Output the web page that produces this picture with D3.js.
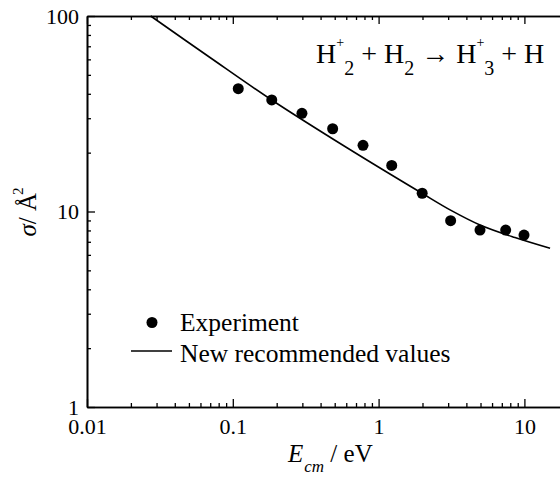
<!DOCTYPE html>
<html><head><meta charset="utf-8">
<script src="https://cdn.jsdelivr.net/npm/d3@7"></script>
<style>
body{margin:0;background:#fff}svg{display:block}
svg text{font-family:"Liberation Serif","Tinos","Times New Roman","DejaVu Serif",serif !important;fill:#000}
</style>
</head><body>
<svg id="c" width="560" height="477"></svg>
<script>
const expE = [0.109, 0.185, 0.298, 0.484, 0.782, 1.23, 1.99, 3.12, 4.96, 7.44, 9.94];
const expSigma = [42.5, 37.2, 31.8, 26.5, 21.8, 17.2, 12.4, 8.98, 8.04, 8.04, 7.58];
const recE = [0.02734, 0.06976, 0.1848, 0.6071, 1.985, 3.138, 4.962, 8.619, 15.0];
const recSigma = [100, 61.33, 37.18, 21.18, 12.39, 10.13, 8.53, 7.355, 6.48];
const xTicks = [0.01, 0.1, 1, 10];
const xTickLabels = ["0.01", "0.1", "1", "10"];
const yTicks = [1, 10, 100];
const yTickLabels = ["1", "10", "100"];

const svg = d3.select("#c");
const plotLeft = 87, plotTop = 16, plotBottom = 407, decade = 145.8;
const x = d3.scaleLog().domain([0.01, 30]).range([plotLeft, plotLeft + decade * Math.log10(3000)]);
const y = d3.scaleLog().domain([1, 100]).range([plotBottom, plotTop]);

const xMinor = [];
for (let d = 0.01; d < 30; d *= 10) for (let k = 2; k <= 9; k++) if (d * k < 30) xMinor.push(d * k);
const yMinor = [];
for (let d = 1; d < 100; d *= 10) for (let k = 2; k <= 9; k++) yMinor.push(d * k);

function style(g) {
  g.attr("font-family", null);
  g.selectAll("path.domain").attr("stroke", "#000").attr("stroke-width", 1.6);
  g.selectAll(".tick line").attr("stroke", "#000").attr("stroke-width", 1.3);
  g.selectAll("text").attr("font-size", 22).attr("fill", "#000");
}

// bottom axis
const gB = svg.append("g").attr("transform", `translate(0,${plotBottom})`)
  .call(d3.axisBottom(x).tickValues(xTicks).tickFormat((d, i) => xTickLabels[i]).tickSize(-8).tickSizeOuter(0).tickPadding(11));
style(gB);
gB.selectAll("text").attr("dy", "0.71em");
svg.append("g").attr("transform", `translate(0,${plotBottom})`)
  .call(d3.axisBottom(x).tickValues(xMinor).tickFormat("").tickSize(-4).tickSizeOuter(0)).call(style);

// top axis
svg.append("g").attr("transform", `translate(0,${plotTop})`)
  .call(d3.axisTop(x).tickValues(xTicks).tickFormat("").tickSize(-8).tickSizeOuter(0)).call(style);
svg.append("g").attr("transform", `translate(0,${plotTop})`)
  .call(d3.axisTop(x).tickValues(xMinor).tickFormat("").tickSize(-4).tickSizeOuter(0)).call(style);

// left axis
const gL = svg.append("g").attr("transform", `translate(${plotLeft},0)`)
  .call(d3.axisLeft(y).tickValues(yTicks).tickFormat((d, i) => yTickLabels[i]).tickSize(-8).tickSizeOuter(0).tickPadding(8));
style(gL);
svg.append("g").attr("transform", `translate(${plotLeft},0)`)
  .call(d3.axisLeft(y).tickValues(yMinor).tickFormat("").tickSize(-4).tickSizeOuter(0)).call(style);

// curve
const line = d3.line().x((d, i) => x(recE[i])).y((d, i) => y(recSigma[i])).curve(d3.curveCatmullRom);
svg.append("path").datum(recE).attr("d", line).attr("fill", "none").attr("stroke", "#000").attr("stroke-width", 1.6);

// points
svg.append("g").selectAll("circle").data(expE).join("circle")
  .attr("cx", d => x(d)).attr("cy", (d, i) => y(expSigma[i])).attr("r", 5.5).attr("fill", "#000");

// legend
svg.append("circle").attr("cx", 152).attr("cy", 322.5).attr("r", 5.5).attr("fill", "#000");
svg.append("text").attr("x", 180).attr("y", 331).attr("font-size", 25.5).text("Experiment");
svg.append("line").attr("x1", 131).attr("x2", 172).attr("y1", 351).attr("y2", 351).attr("stroke", "#000").attr("stroke-width", 1.6);
svg.append("text").attr("x", 180).attr("y", 361.5).attr("font-size", 25.5).text("New recommended values");

// reaction
const r = svg.append("text").attr("x", 316).attr("y", 63).attr("font-size", 28);
const parts = [
  ["H", 28, 0], ["+", 14, -16.5], ["2", 20, 28.5], [" + H", 28, -12], ["2", 20, 12],
  [" \u2192 H", 28, -12], ["+", 14, -16.5], ["3", 20, 28.5], [" + H", 28, -12]
];
parts.forEach(p => r.append("tspan").attr("font-size", p[1]).attr("dy", p[2]).text(p[0]));

// x title
const xt = svg.append("text").attr("x", 288).attr("y", 461.7).attr("font-size", 25);
xt.append("tspan").attr("font-style", "italic").text("E");
xt.append("tspan").attr("font-style", "italic").attr("font-size", 17).attr("dy", 10).attr("dx", 1).text("cm");
xt.append("tspan").attr("dy", -10).text(" / eV");

// y title
const yt = svg.append("text").attr("transform", "translate(36,212) rotate(-90)").attr("text-anchor", "middle")
  .attr("font-size", 25);
yt.append("tspan").attr("font-style", "italic").text("\u03C3");
yt.append("tspan").text("/ \u00C5");
yt.append("tspan").attr("font-size", 15).attr("dy", -13).attr("dx", -2).text("2");
</script>
</body></html>
